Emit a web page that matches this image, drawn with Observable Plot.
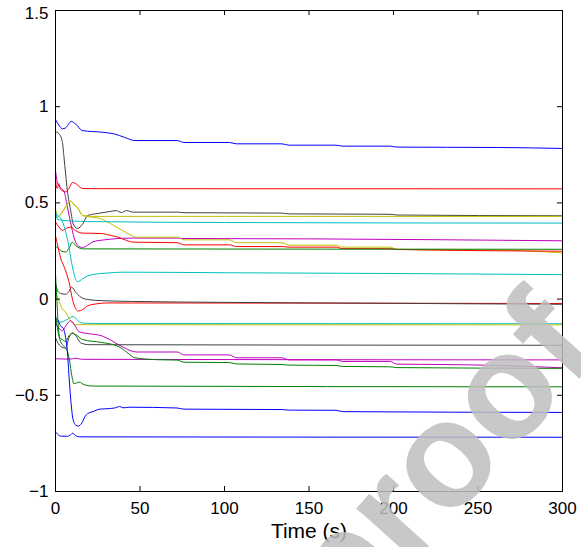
<!DOCTYPE html>
<html>
<head>
<meta charset="utf-8">
<script src="https://cdn.jsdelivr.net/npm/d3@7"></script>
<script src="https://cdn.jsdelivr.net/npm/@observablehq/plot@0.6"></script>
<style>
  html, body { margin: 0; padding: 0; background: #fff; }
  #wrap { position: relative; width: 581px; height: 547px; overflow: hidden; }
  #mark { position: absolute; left: 0; top: 0; pointer-events: none; }
</style>
</head>
<body>
<div id="wrap"><div id="chart"></div>
<svg id="mark" width="581" height="547"><text transform="translate(347,637) rotate(-48)" font-family="'Liberation Sans', Arial, sans-serif" font-weight="bold" font-size="150" fill="rgb(190,190,190)" fill-opacity="0.85">proof</text></svg>
</div>
<script>
// ---- tick labels ----
const xTicks = [0, 50, 100, 150, 200, 250, 300];
const xTickLabels = ["0", "50", "100", "150", "200", "250", "300"];
const yTicks = [-1, -0.5, 0, 0.5, 1, 1.5];
const yTickLabels = ["\u22121", "\u22120.5", "0", "0.5", "1", "1.5"];
const xLabel = "Time (s)";

// ---- series: [time (s), value] ----
const blueTop = [[0,0.932],[2,0.905],[4,0.885],[6,0.89],[9.3,0.923],[12,0.91],[15.8,0.876],[28,0.867],[35,0.858],[41,0.84],[47,0.824],[72,0.824],[76,0.814],[103,0.814],[107,0.807],[134,0.807],[138,0.80],[166,0.80],[170,0.795],[198,0.795],[202,0.79],[262,0.788],[300,0.783]];
const blackTop = [[0,0.87],[2,0.86],[4,0.82],[5,0.74],[6,0.65],[7,0.565],[9,0.46],[10.5,0.39],[13,0.367],[16,0.39],[19,0.434],[25,0.445],[32,0.455],[36,0.46],[39,0.45],[42,0.46],[46,0.452],[72,0.452],[76,0.449],[134,0.447],[138,0.443],[198,0.441],[202,0.437],[300,0.433]];
const redTop = [[0,0.62],[1,0.575],[2,0.6],[3,0.57],[6,0.558],[8,0.575],[10,0.606],[12,0.6],[16,0.575],[25,0.574],[300,0.573]];
const magentaTop = [[0,0.67],[1,0.61],[3,0.578],[5,0.562],[7,0.48],[9,0.395],[11,0.32],[13,0.28],[16,0.268],[19,0.28],[22,0.297],[28,0.307],[45,0.317],[72,0.317],[76,0.315],[150,0.313],[300,0.303]];
const yellowFlat = [[0,0.47],[1,0.425],[3,0.44],[6,0.48],[9,0.51],[11,0.49],[13,0.475],[16,0.435],[22,0.43],[100,0.43],[300,0.43]];
const yellowStep = [[0,0.47],[1,0.425],[3,0.44],[6,0.48],[9,0.51],[11,0.49],[13,0.475],[16,0.435],[22,0.425],[26,0.42],[35,0.38],[42,0.345],[48,0.322],[72,0.322],[76,0.308],[103,0.308],[107,0.293],[134,0.293],[138,0.28],[166,0.28],[170,0.27],[198,0.27],[202,0.258],[262,0.255],[300,0.24]];
const cyanTop = [[0,0.46],[1,0.415],[4,0.41],[10,0.406],[20,0.403],[100,0.398],[300,0.395]];
const redMid = [[0,0.40],[2,0.375],[4,0.357],[7,0.37],[9,0.374],[12,0.355],[16,0.343],[27,0.341],[33,0.33],[37,0.322],[42,0.305],[46,0.296],[72,0.293],[76,0.282],[103,0.282],[107,0.273],[134,0.273],[138,0.27],[166,0.27],[170,0.262],[198,0.262],[202,0.258],[300,0.249]];
const greenTop = [[0,0.275],[1.5,0.265],[3,0.252],[6,0.245],[8,0.265],[10,0.295],[12,0.278],[16,0.261],[300,0.259]];
const redDrop = [[0,0.33],[1.5,0.27],[3,0.215],[5,0.17],[7,0.12],[8.5,0.07],[9.5,0.02],[11,-0.03],[13.5,-0.062],[16,-0.055],[19,-0.035],[24,-0.025],[30,-0.02],[300,-0.023]];
const cyanDrop = [[0,0.445],[2,0.43],[4,0.405],[6,0.35],[8,0.27],[9.5,0.19],[11,0.13],[13,0.09],[16,0.105],[19,0.12],[22,0.128],[30,0.135],[40,0.14],[100,0.137],[200,0.133],[300,0.127]];
const blackZero = [[0,0.08],[1.5,0.04],[3,0.03],[6,0.025],[8,0.04],[9.5,0.062],[12,0.035],[16,0.005],[20,-0.003],[27,-0.008],[45,-0.012],[100,-0.017],[200,-0.022],[300,-0.027]];
const cyanLow = [[0,-0.11],[3,-0.12],[6,-0.11],[9,-0.095],[10.5,-0.09],[13,-0.11],[16,-0.125],[30,-0.127],[300,-0.128]];
const yellowLow = [[0,0.03],[2,-0.01],[4,-0.05],[6,-0.068],[8,-0.1],[10,-0.125],[12,-0.133],[300,-0.134]];
const magentaStep = [[0,-0.125],[2,-0.15],[4,-0.165],[6,-0.14],[9,-0.112],[11,-0.13],[14,-0.17],[20,-0.18],[27,-0.19],[33,-0.215],[40,-0.25],[48,-0.275],[72,-0.275],[76,-0.29],[103,-0.29],[107,-0.305],[134,-0.305],[138,-0.316],[166,-0.316],[170,-0.324],[198,-0.324],[202,-0.338],[230,-0.34],[262,-0.345],[300,-0.357]];
const magentaFlat = [[0,-0.31],[8,-0.312],[12,-0.308],[16,-0.313],[300,-0.316]];
const blackLow = [[0,-0.2],[1.5,-0.23],[3,-0.245],[6,-0.255],[8,-0.2],[10,-0.175],[12,-0.19],[15,-0.228],[20,-0.237],[300,-0.24]];
const greenStep = [[0,0.13],[0.8,0.0],[1.5,-0.12],[2.5,-0.2],[4,-0.21],[6,-0.22],[8,-0.19],[10,-0.178],[12,-0.185],[16,-0.21],[27,-0.225],[37,-0.245],[42,-0.275],[47,-0.305],[60,-0.315],[72,-0.317],[76,-0.328],[103,-0.33],[107,-0.337],[134,-0.34],[138,-0.343],[166,-0.345],[170,-0.35],[198,-0.352],[202,-0.356],[300,-0.36]];
const greenLow = [[0,-0.08],[1.5,-0.17],[3,-0.22],[5,-0.245],[7,-0.27],[8.5,-0.33],[9.5,-0.39],[11,-0.44],[14,-0.432],[17,-0.445],[22,-0.452],[300,-0.456]];
const blueDip = [[0,-0.1],[1.5,-0.11],[3,-0.14],[4.5,-0.15],[6,-0.2],[7,-0.27],[8,-0.4],[9,-0.52],[10.5,-0.63],[12,-0.655],[13.5,-0.66],[15.5,-0.645],[17.5,-0.61],[19,-0.595],[21,-0.588],[23,-0.582],[26,-0.572],[30,-0.57],[35,-0.566],[38,-0.558],[40,-0.565],[44,-0.562],[72,-0.566],[76,-0.572],[134,-0.574],[138,-0.577],[166,-0.578],[170,-0.585],[300,-0.589]];
const blueBottom = [[0,-0.69],[1,-0.7],[3,-0.712],[7,-0.713],[9,-0.705],[10,-0.697],[12,-0.71],[14,-0.716],[300,-0.718]];

const seriesNames = ["blueTop","blackTop","redTop","magentaTop","yellowFlat","yellowStep","cyanTop","redMid","greenTop","redDrop","cyanDrop","blackZero","cyanLow","yellowLow","magentaStep","magentaFlat","blackLow","greenStep","greenLow","blueDip","blueBottom"];
const seriesValues = [blueTop,blackTop,redTop,magentaTop,yellowFlat,yellowStep,cyanTop,redMid,greenTop,redDrop,cyanDrop,blackZero,cyanLow,yellowLow,magentaStep,magentaFlat,blackLow,greenStep,greenLow,blueDip,blueBottom];
const seriesColors = ["#0000ff","#404040","#ff0000","#bf00bf","#bfbf00","#bfbf00","#00bfbf","#ff0000","#008000","#ff0000","#00bfbf","#404040","#00bfbf","#bfbf00","#bf00bf","#bf00bf","#404040","#008000","#008000","#0000ff","#0000ff"];

const rows = seriesValues.flatMap((pts, i) => pts.map(([t, v]) => ({t, v, s: seriesNames[i]})));

const W = 581, H = 547, mL = 55, mR = 19, mT = 10, mB = 56;
const plotW = W - mL - mR, plotH = H - mT - mB, tick = 5;
const yTop = yTicks[yTicks.length - 1];
const yFmt = d => yTickLabels[yTicks.indexOf(d)];

const chart = Plot.plot({
  width: W, height: H,
  marginLeft: mL, marginRight: mR, marginTop: mT, marginBottom: mB,
  style: {fontFamily: "'Liberation Sans', Arial, Helvetica, sans-serif", background: "white", color: "black", overflow: "visible"},
  x: {domain: [0, 300]},
  y: {domain: [-1, 1.5]},
  color: {domain: seriesNames, range: seriesColors},
  marks: [
    Plot.line(rows, {x: "t", y: "v", z: "s", stroke: "s", strokeWidth: 1, curve: "monotone-x"}),
    Plot.frame({stroke: "black", strokeWidth: 1}),
    Plot.ruleX(xTicks, {x: d => d, insetTop: plotH - tick, stroke: "black"}),
    Plot.ruleX(xTicks, {x: d => d, insetBottom: plotH - tick, stroke: "black"}),
    Plot.ruleY(yTicks, {y: d => d, insetRight: plotW - tick, stroke: "black"}),
    Plot.ruleY(yTicks, {y: d => d, insetLeft: plotW - tick, stroke: "black"}),
    Plot.axisX({ticks: xTicks, tickFormat: d => xTickLabels[xTicks.indexOf(d)], tickSize: 0, tickPadding: 10, fontSize: 17, label: null}),
    Plot.axisY({ticks: yTicks.filter(d => d !== yTop), tickFormat: yFmt, tickSize: 0, tickPadding: 7, fontSize: 17, label: null}),
    Plot.axisY({ticks: [yTop], tickFormat: yFmt, tickSize: 0, tickPadding: 7, fontSize: 17, dy: 3, label: null}),
    Plot.text([xLabel], {text: d => d, frameAnchor: "bottom", dy: 40, fontSize: 21, lineAnchor: "middle"})
  ]
});
document.getElementById("chart").appendChild(chart);
</script>
</body>
</html>
